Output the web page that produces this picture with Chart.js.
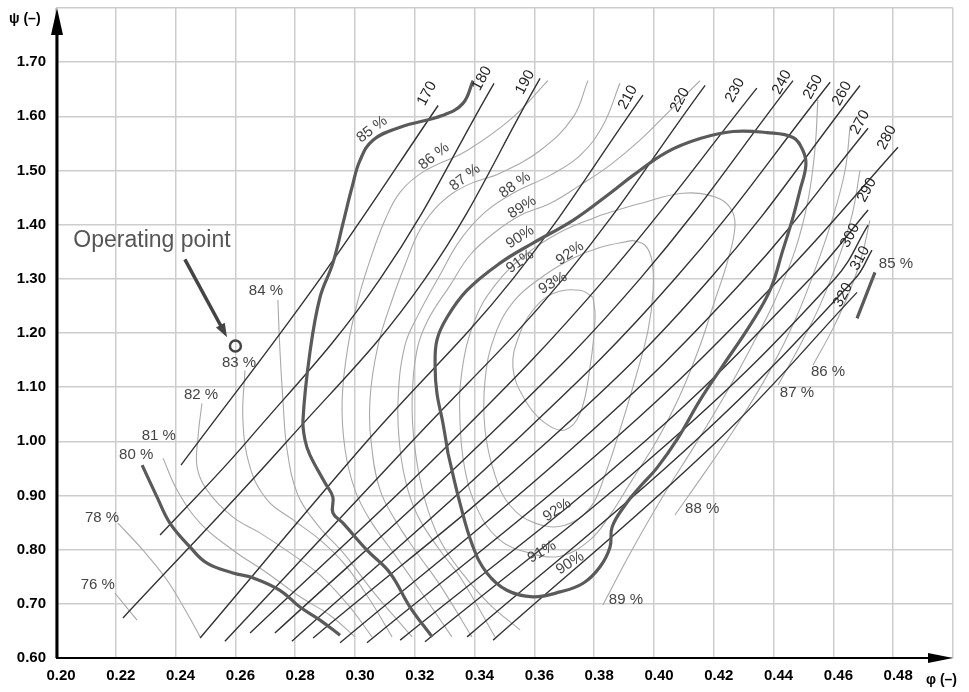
<!DOCTYPE html>
<html lang="en">
<head>
<meta charset="UTF-8">
<title>Compressor map</title>
<script src="https://cdn.jsdelivr.net/npm/chart.js@4.4.1/dist/chart.umd.min.js"></script>
<style>
  body { margin: 0; background: #fff; }
</style>
</head>
<body>
<canvas id="chart" width="969" height="692"></canvas>
<script>
// speed lines, phi / psi
const speeds = [170, 180, 190, 210, 220, 230, 240, 250, 260, 270, 280, 290, 300, 310, 320];
const speedPhi = [
  [0.2418, 0.2883, 0.3278],
  [0.2348, 0.2639, 0.3084, 0.3465],
  [0.2224, 0.2773, 0.3234, 0.3619],
  [0.2482, 0.3040, 0.3528, 0.3963],
  [0.2565, 0.3191, 0.3696, 0.4171],
  [0.2649, 0.3324, 0.3836, 0.4344],
  [0.2732, 0.3428, 0.3953, 0.4465],
  [0.2789, 0.3535, 0.4070, 0.4589],
  [0.2860, 0.3645, 0.4187, 0.4689],
  [0.2950, 0.3753, 0.4304, 0.4716],
  [0.3040, 0.3860, 0.4421, 0.4816],
  [0.3151, 0.3970, 0.4522, 0.4716],
  [0.3234, 0.4054, 0.4605, 0.4716],
  [0.3375, 0.4137, 0.4672, 0.4729],
  [0.3462, 0.4211, 0.4679]
];
const speedPsi = [
  [0.956, 1.30, 1.620],
  [0.827, 1.00, 1.30, 1.661],
  [0.674, 1.00, 1.30, 1.670],
  [0.637, 1.00, 1.30, 1.639],
  [0.631, 1.00, 1.30, 1.657],
  [0.646, 1.00, 1.30, 1.652],
  [0.646, 1.00, 1.30, 1.666],
  [0.631, 1.00, 1.30, 1.663],
  [0.637, 1.00, 1.30, 1.657],
  [0.628, 1.00, 1.30, 1.578],
  [0.628, 1.00, 1.30, 1.543],
  [0.633, 1.00, 1.30, 1.427],
  [0.630, 1.00, 1.30, 1.399],
  [0.639, 1.00, 1.30, 1.353],
  [0.633, 1.00, 1.275]
];

// efficiency contours (%), several branches per level
const effLevel = [76, 78, 80, 81, 82, 83, 84, 85, 85, 86, 86, 87, 87, 88, 88, 89, 89, 90, 91, 92, 93];
const effPhi = [
  [0.2197, 0.2271],
  [0.2207, 0.2291, 0.2371, 0.2438, 0.2482],
  [0.2288, 0.2338, 0.2381, 0.2448, 0.2505, 0.2592, 0.2659, 0.2749, 0.2816, 0.2883, 0.2950],
  [0.2358, 0.2405, 0.2482, 0.2592, 0.2706, 0.2816, 0.2916, 0.3000],
  [0.2488, 0.2475, 0.2472, 0.2505, 0.2592, 0.2682, 0.2783, 0.2883, 0.2977, 0.3057],
  [0.2632, 0.2625, 0.2649, 0.2706, 0.2793, 0.2883, 0.2967, 0.3050, 0.3124],
  [0.2742, 0.2749, 0.2759, 0.2773, 0.2809, 0.2876, 0.2967, 0.3057, 0.3191],
  [0.3395, 0.3361, 0.3294, 0.3151, 0.3060, 0.3017, 0.2990, 0.2960, 0.2926, 0.2883, 0.2849, 0.2826, 0.2833, 0.2849, 0.2900, 0.2926, 0.2926, 0.2960, 0.3040, 0.3117, 0.3184, 0.3258],
  [0.4739, 0.4679],
  [0.3645, 0.3528, 0.3375, 0.3227, 0.3151, 0.3100, 0.3050, 0.3010, 0.2977, 0.2957, 0.2967, 0.3000, 0.3050, 0.3134, 0.3217, 0.3324],
  [0.4532, 0.4599, 0.4656, 0.4696, 0.4722],
  [0.3779, 0.3729, 0.3619, 0.3485, 0.3375, 0.3284, 0.3217, 0.3167, 0.3124, 0.3077, 0.3050, 0.3057, 0.3084, 0.3134, 0.3201, 0.3284, 0.3391],
  [0.4415, 0.4488, 0.4555, 0.4615, 0.4662, 0.4689],
  [0.3886, 0.3829, 0.3753, 0.3652, 0.3535, 0.3435, 0.3351, 0.3284, 0.3211, 0.3167, 0.3144, 0.3151, 0.3177, 0.3217, 0.3284, 0.3358, 0.3468],
  [0.4070, 0.4187, 0.4288, 0.4388, 0.4472, 0.4538, 0.4595, 0.4639, 0.4656],
  [0.4154, 0.4054, 0.3953, 0.3853, 0.3753, 0.3652, 0.3552, 0.3468, 0.3385, 0.3318, 0.3244, 0.3207, 0.3191, 0.3201, 0.3234, 0.3284, 0.3358, 0.3452, 0.3552],
  [0.3829, 0.3930, 0.4037, 0.4137, 0.4237, 0.4328, 0.4405, 0.4472, 0.4515, 0.4538, 0.4548],
  [0.3311, 0.3294, 0.3274, 0.3268, 0.3274, 0.3308, 0.3375, 0.3485, 0.3595, 0.3729, 0.3853, 0.3930, 0.4043, 0.4154, 0.4264, 0.4378, 0.4465, 0.4498, 0.4508, 0.4488, 0.4465, 0.4431, 0.4388, 0.4321, 0.4227, 0.4154, 0.4080, 0.4010, 0.3953, 0.3903, 0.3860, 0.3853, 0.3819, 0.3763, 0.3686, 0.3595, 0.3508, 0.3441, 0.3395, 0.3351, 0.3311],
  [0.3819, 0.3686, 0.3569, 0.3468, 0.3401, 0.3358, 0.3351, 0.3368, 0.3411, 0.3478, 0.3569, 0.3686, 0.3786, 0.3853, 0.3926, 0.4010, 0.4087, 0.4154, 0.4204, 0.4247, 0.4271, 0.4254, 0.4204, 0.4097, 0.3953, 0.3819],
  [0.3930, 0.3819, 0.3729, 0.3635, 0.3535, 0.3468, 0.3435, 0.3435, 0.3468, 0.3518, 0.3602, 0.3702, 0.3786, 0.3836, 0.3886, 0.3936, 0.3980, 0.3997, 0.3993, 0.3970, 0.3930],
  [0.3796, 0.3753, 0.3662, 0.3595, 0.3552, 0.3528, 0.3569, 0.3635, 0.3702, 0.3753, 0.3786, 0.3803, 0.3796]
];
const effPsi = [
  [0.720, 0.670],
  [0.849, 0.799, 0.744, 0.683, 0.639],
  [0.956, 0.897, 0.849, 0.805, 0.775, 0.757, 0.748, 0.725, 0.694, 0.670, 0.642],
  [0.969, 0.910, 0.849, 0.799, 0.757, 0.713, 0.679, 0.639],
  [1.070, 1.008, 0.952, 0.910, 0.860, 0.831, 0.794, 0.753, 0.698, 0.639],
  [1.131, 1.039, 0.952, 0.892, 0.855, 0.818, 0.772, 0.707, 0.639],
  [1.261, 1.168, 1.076, 0.984, 0.901, 0.845, 0.790, 0.725, 0.639],
  [1.666, 1.624, 1.602, 1.580, 1.556, 1.519, 1.469, 1.403, 1.329, 1.266, 1.163, 1.039, 1.002, 0.975, 0.923, 0.897, 0.868, 0.849, 0.799, 0.757, 0.694, 0.639],
  [1.312, 1.227],
  [1.666, 1.598, 1.537, 1.497, 1.460, 1.408, 1.334, 1.261, 1.177, 1.076, 0.984, 0.910, 0.855, 0.790, 0.725, 0.639],
  [1.141, 1.209, 1.279, 1.344, 1.408],
  [1.666, 1.598, 1.537, 1.495, 1.473, 1.439, 1.390, 1.325, 1.261, 1.177, 1.076, 0.984, 0.910, 0.855, 0.799, 0.735, 0.639],
  [1.104, 1.177, 1.251, 1.334, 1.417, 1.500],
  [1.661, 1.583, 1.528, 1.491, 1.460, 1.423, 1.371, 1.307, 1.233, 1.177, 1.076, 0.984, 0.910, 0.855, 0.799, 0.744, 0.639],
  [0.864, 0.956, 1.039, 1.131, 1.224, 1.316, 1.408, 1.500, 1.583],
  [1.666, 1.611, 1.556, 1.510, 1.473, 1.439, 1.417, 1.386, 1.344, 1.288, 1.224, 1.168, 1.076, 0.984, 0.892, 0.818, 0.757, 0.698, 0.652],
  [0.698, 0.803, 0.905, 0.993, 1.085, 1.177, 1.261, 1.353, 1.445, 1.537, 1.630],
  [0.978, 1.034, 1.089, 1.137, 1.187, 1.229, 1.279, 1.329, 1.366, 1.408, 1.458, 1.491, 1.534, 1.559, 1.572, 1.570, 1.561, 1.537, 1.510, 1.463, 1.414, 1.353, 1.279, 1.214, 1.137, 1.076, 1.006, 0.951, 0.916, 0.882, 0.842, 0.805, 0.768, 0.738, 0.722, 0.713, 0.725, 0.757, 0.805, 0.886, 0.978],
  [1.417, 1.386, 1.344, 1.288, 1.224, 1.131, 1.039, 0.947, 0.873, 0.821, 0.796, 0.788, 0.818, 0.864, 0.928, 1.002, 1.085, 1.177, 1.261, 1.334, 1.399, 1.432, 1.451, 1.458, 1.439, 1.417],
  [1.371, 1.358, 1.338, 1.307, 1.261, 1.196, 1.113, 1.021, 0.938, 0.882, 0.849, 0.845, 0.877, 0.938, 1.021, 1.113, 1.205, 1.279, 1.334, 1.362, 1.371],
  [1.266, 1.279, 1.273, 1.242, 1.200, 1.137, 1.076, 1.034, 1.021, 1.052, 1.137, 1.229, 1.266]
];

// operating point
const opPhi = [0.260];
const opPsi = [1.176];

// label anchors (data units)
const speedLabelPhi = [0.3241, 0.3425, 0.3569, 0.3913, 0.4087, 0.4271, 0.4428, 0.4532, 0.4629, 0.4689, 0.4779, 0.4712, 0.4656, 0.4689, 0.4632];
const speedLabelPsi = [1.642, 1.670, 1.663, 1.635, 1.630, 1.648, 1.663, 1.654, 1.642, 1.589, 1.561, 1.464, 1.380, 1.338, 1.270];
const effLabels = [
  ['76 %', 0.2140, 0.735, 0], ['78 %', 0.2154, 0.858, 0], ['80 %', 0.2268, 0.975, 0],
  ['81 %', 0.2344, 1.010, 0], ['82 %', 0.2485, 1.085, 0], ['83 %', 0.2612, 1.144, 0],
  ['84 %', 0.2702, 1.277, 0], ['85 %', 0.3057, 1.576, -37], ['86 %', 0.3264, 1.526, -38],
  ['87 %', 0.3368, 1.487, -38], ['88 %', 0.3535, 1.473, -35], ['89%', 0.3559, 1.432, -32],
  ['90%', 0.3552, 1.377, -33], ['91%', 0.3552, 1.332, -35], ['92%', 0.3719, 1.347, -35],
  ['93%', 0.3662, 1.292, -30], ['92%', 0.3676, 0.873, -33], ['91%', 0.3625, 0.796, -30],
  ['90%', 0.3719, 0.775, -33], ['89 %', 0.3906, 0.707, 0], ['88 %', 0.4161, 0.875, 0],
  ['87 %', 0.4478, 1.089, 0], ['86 %', 0.4582, 1.128, 0], ['85 %', 0.4809, 1.327, 0]
];

const datasets = [];
effPhi.forEach((phis, i) => {
  const thick = [80, 85, 90].includes(effLevel[i]);
  datasets.push({
    label: effLevel[i] + ' %',
    data: phis.map((p, k) => ({ x: p, y: effPsi[i][k] })),
    showLine: true,
    borderColor: thick ? '#5a5a5a' : '#a9a9a9',
    borderWidth: thick ? 3.2 : 1.1,
    pointRadius: 0,
    tension: 0.4,
    order: thick ? 1 : 3
  });
});
speedPhi.forEach((phis, i) => {
  datasets.push({
    label: 'n = ' + speeds[i],
    data: phis.map((p, k) => ({ x: p, y: speedPsi[i][k] })),
    showLine: true,
    borderColor: '#333',
    borderWidth: 1.4,
    pointRadius: 0,
    tension: 0.4,
    order: 2
  });
});
datasets.push({
  label: 'Operating point',
  data: opPhi.map((p, k) => ({ x: p, y: opPsi[k] })),
  pointRadius: 5.5,
  pointBorderWidth: 2.5,
  pointBorderColor: '#444',
  pointBackgroundColor: 'rgba(255,255,255,0)',
  order: 0
});

const mapAnnotations = {
  id: 'mapAnnotations',
  afterDraw(chart) {
    const { ctx, chartArea: a, scales: { x, y } } = chart;
    ctx.save();

    // axes with arrow heads
    ctx.fillStyle = '#000';
    ctx.strokeStyle = '#000';
    ctx.lineWidth = 3;
    ctx.beginPath(); ctx.moveTo(a.left + 1, a.bottom); ctx.lineTo(a.left + 1, a.top + 20); ctx.stroke();
    ctx.beginPath();
    ctx.moveTo(a.left - 5, a.top + 27); ctx.lineTo(a.left + 7, a.top + 27); ctx.lineTo(a.left + 1, a.top);
    ctx.closePath(); ctx.fill();
    ctx.lineWidth = 2;
    ctx.beginPath(); ctx.moveTo(a.left, a.bottom); ctx.lineTo(a.right - 20, a.bottom); ctx.stroke();
    ctx.beginPath();
    ctx.moveTo(a.right - 25, a.bottom - 5); ctx.lineTo(a.right - 25, a.bottom + 5); ctx.lineTo(a.right, a.bottom);
    ctx.closePath(); ctx.fill();

    ctx.font = 'bold 14px Arial';
    ctx.textBaseline = 'middle';
    ctx.textAlign = 'left';
    ctx.fillText('\u03c8 (\u2013)', 9, 19);
    ctx.fillText('\u03c6 (\u2013)', 926, 680);

    // speed labels
    ctx.font = '15px Arial';
    ctx.fillStyle = '#222';
    ctx.textAlign = 'center';
    speeds.forEach((s, i) => {
      ctx.save();
      ctx.translate(x.getPixelForValue(speedLabelPhi[i]), y.getPixelForValue(speedLabelPsi[i]));
      ctx.rotate(-62 * Math.PI / 180);
      ctx.fillText(String(s), 0, 0);
      ctx.restore();
    });

    // efficiency labels
    ctx.fillStyle = '#444';
    effLabels.forEach(([t, p, q, rot]) => {
      ctx.save();
      ctx.translate(x.getPixelForValue(p), y.getPixelForValue(q));
      ctx.rotate(rot * Math.PI / 180);
      ctx.fillText(t, 0, 0);
      ctx.restore();
    });

    // operating point callout
    ctx.font = '23px Arial';
    ctx.fillStyle = '#555';
    ctx.fillText('Operating point', x.getPixelForValue(0.2321), y.getPixelForValue(1.371));
    const x0 = x.getPixelForValue(0.2431), y0 = y.getPixelForValue(1.336);
    const x1 = x.getPixelForValue(0.2572), y1 = y.getPixelForValue(1.192);
    const ang = Math.atan2(y1 - y0, x1 - x0);
    ctx.strokeStyle = '#444';
    ctx.fillStyle = '#444';
    ctx.lineWidth = 3.5;
    ctx.beginPath(); ctx.moveTo(x0, y0); ctx.lineTo(x1 - 10 * Math.cos(ang), y1 - 10 * Math.sin(ang)); ctx.stroke();
    ctx.beginPath();
    ctx.moveTo(x1, y1);
    ctx.lineTo(x1 - 14 * Math.cos(ang) + 5 * Math.sin(ang), y1 - 14 * Math.sin(ang) - 5 * Math.cos(ang));
    ctx.lineTo(x1 - 14 * Math.cos(ang) - 5 * Math.sin(ang), y1 - 14 * Math.sin(ang) + 5 * Math.cos(ang));
    ctx.closePath(); ctx.fill();
    ctx.restore();
  }
};

new Chart(document.getElementById('chart'), {
  type: 'scatter',
  data: { datasets },
  options: {
    responsive: false,
    animation: false,
    events: [],
    layout: { padding: { top: 7, right: 16, left: 0, bottom: 0 } },
    plugins: { legend: { display: false }, tooltip: { enabled: false } },
    scales: {
      x: {
        type: 'linear', min: 0.2, max: 0.5,
        afterFit: (s) => { s.height = 34; s.paddingLeft = 0; s.paddingRight = 0; },
        border: { display: false },
        grid: { color: '#cdcdcd', lineWidth: 1.5, drawTicks: false },
        ticks: {
          stepSize: 0.02, autoSkip: false, maxRotation: 0, padding: 9, labelOffset: 5,
          color: '#000', font: { family: 'Arial', size: 15, weight: 'bold' },
          callback: (v) => v > 0.49 ? '' : v.toFixed(2)
        }
      },
      y: {
        type: 'linear', min: 0.6, max: 1.8,
        afterFit: (s) => { s.width = 56; s.paddingTop = 0; s.paddingBottom = 0; },
        border: { display: false },
        grid: { color: '#cdcdcd', lineWidth: 1.5, drawTicks: false },
        ticks: {
          stepSize: 0.1, autoSkip: false, padding: 10,
          color: '#000', font: { family: 'Arial', size: 15, weight: 'bold' },
          callback: (v) => v > 1.75 ? '' : v.toFixed(2)
        }
      }
    }
  },
  plugins: [mapAnnotations]
});
</script>
</body>
</html>
